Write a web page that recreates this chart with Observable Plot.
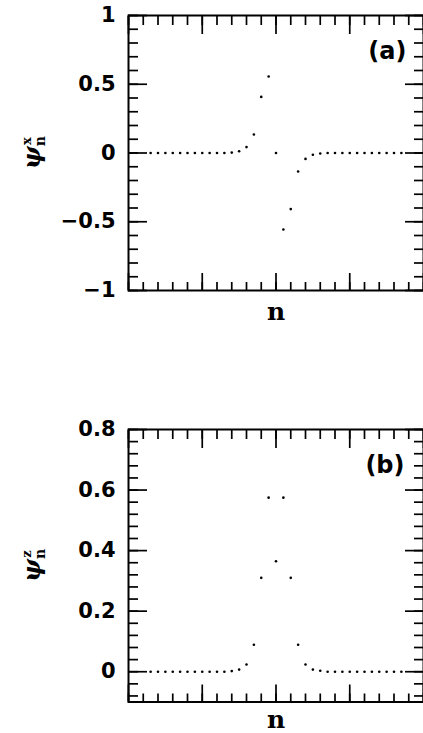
<!DOCTYPE html>
<html><head><meta charset="utf-8">
<script src="https://cdn.jsdelivr.net/npm/d3@7"></script>
<script src="https://cdn.jsdelivr.net/npm/@observablehq/plot@0.6"></script>
<style>
body{margin:0;background:#fff;width:423px;height:733px;overflow:hidden;position:relative}
.panel{position:absolute;left:0}
</style></head><body>
<div id="a" class="panel" style="top:0"></div>
<div id="b" class="panel" style="top:330px"></div>
<script>
// site index n
const nValues = [-17,-16,-15,-14,-13,-12,-11,-10,-9,-8,-7,-6,-5,-4,-3,-2,-1,0,1,2,3,4,5,6,7,8,9,10,11,12,13,14,15,16,17];
// panel (a): psi^x_n
const psiX = [0,0,0,0,0,0,0,0,0,0,0,0.003,0.013,0.043,0.135,0.408,0.556,0,-0.556,-0.408,-0.135,-0.043,-0.013,-0.004,0,0,0,0,0,0,0,0,0,0,0];
// panel (b): psi^z_n
const psiZ = [0,0,0,0,0,0,0,0,0,0,0,0.002,0.007,0.024,0.089,0.31,0.575,0.365,0.575,0.31,0.089,0.024,0.007,0.003,0,0,0,0,0,0,0,0,0,0,0];

const xDomain = [-20, 20];
const xMinorTicks = [-20,-18,-16,-14,-12,-10,-8,-6,-4,-2,0,2,4,6,8,10,12,14,16,18,20];
const xMajorTicks = [-20,-10,0,10,20];

const yDomainA = [-1, 1];
const yMajorA = [-1,-0.5,0,0.5,1];
const yMinorA = [-1,-0.9,-0.8,-0.7,-0.6,-0.5,-0.4,-0.3,-0.2,-0.1,0,0.1,0.2,0.3,0.4,0.5,0.6,0.7,0.8,0.9,1];

const yDomainB = [-0.1, 0.8];
const yMajorB = [0,0.2,0.4,0.6,0.8];
const yMinorB = [-0.08,-0.04,0,0.04,0.08,0.12,0.16,0.2,0.24,0.28,0.32,0.36,0.4,0.44,0.48,0.52,0.56,0.6,0.64,0.68,0.72,0.76,0.8];

const fmt = d => String(+d.toFixed(2)).replace("-", "\u2212");

function panel(el, {values, yDomain, yMajor, yMinor, tag, sup, height, marginTop, marginBottom, tagDx, tagDy, nDy}) {
  const data = nValues.map((n, i) => ({n, v: values[i]}));
  const blank = {tickFormat: () => "", label: null, strokeWidth: 1.7};
  const plot = Plot.plot({
    width: 423, height, marginTop, marginBottom, marginLeft: 128, marginRight: 0,
    style: {fontFamily: "DejaVu Sans", fontSize: "21px", color: "black", background: "white", overflow: "visible"},
    x: {domain: xDomain},
    y: {domain: yDomain},
    marks: [
      Plot.axisX({anchor: "bottom", ticks: xMinorTicks, tickSize: -8, ...blank}),
      Plot.axisX({anchor: "bottom", ticks: xMajorTicks, tickSize: -17, ...blank}),
      Plot.axisX({anchor: "top", ticks: xMinorTicks, tickSize: -9, ...blank}),
      Plot.axisX({anchor: "top", ticks: xMajorTicks, tickSize: -18, ...blank}),
      Plot.axisY({anchor: "left", ticks: yMinor, tickSize: -10, ...blank}),
      Plot.axisY({anchor: "left", ticks: yMajor, tickSize: -19, ...blank}),
      Plot.axisY({anchor: "right", ticks: yMinor, tickSize: -10, ...blank}),
      Plot.axisY({anchor: "right", ticks: yMajor, tickSize: -19, ...blank}),
      Plot.axisY({anchor: "left", ticks: yMajor, tickSize: 0, tickPadding: 13, tickFormat: fmt, label: null,
        fontSize: 21, fontFamily: "DejaVu Sans", fontWeight: "bold"}),
      Plot.dot(data, {x: "n", y: "v", r: 1.3, fill: "black", stroke: null}),
      Plot.frame({strokeWidth: 2}),
      Plot.text([tag], {frameAnchor: "top-right", dx: tagDx, dy: tagDy, textAnchor: "end", lineAnchor: "middle",
        fontFamily: "DejaVu Sans", fontWeight: "bold", fontSize: 24}),
      Plot.text(["n"], {frameAnchor: "bottom", dy: nDy, lineAnchor: "bottom",
        fontFamily: "DejaVu Serif", fontWeight: "bold", fontSize: 25})
    ]
  });
  const yc = marginTop + (height - marginTop - marginBottom) / 2;
  const svg = d3.select(plot);
  const t = svg.append("text")
    .attr("transform", `translate(40,${yc}) rotate(-90)`)
    .attr("text-anchor", "middle")
    .attr("fill", "black");
  t.append("tspan").attr("font-family", "DejaVu Serif").attr("font-style", "italic").attr("font-weight", "bold").attr("font-size", 24).text("\u03C8");
  t.append("tspan").attr("font-family", "DejaVu Serif").attr("font-weight", "bold").attr("font-size", 14).attr("dy", 5).text("n");
  t.append("tspan").attr("font-family", "DejaVu Serif").attr("font-weight", "bold").attr("font-size", 13).attr("dx", -9).attr("dy", -14).text(sup);
  el.appendChild(plot);
  return plot;
}

panel(document.getElementById("a"), {values: psiX, yDomain: yDomainA, yMajor: yMajorA, yMinor: yMinorA, tag: "(a)", sup: "x",
  height: 330, marginTop: 15, marginBottom: 40, tagDx: -17, tagDy: 36, nDy: 29});
panel(document.getElementById("b"), {values: psiZ, yDomain: yDomainB, yMajor: yMajorB, yMinor: yMinorB, tag: "(b)", sup: "z",
  height: 403, marginTop: 99, marginBottom: 31.5, tagDx: -19, tagDy: 36, nDy: 26});
</script>
</body></html>
